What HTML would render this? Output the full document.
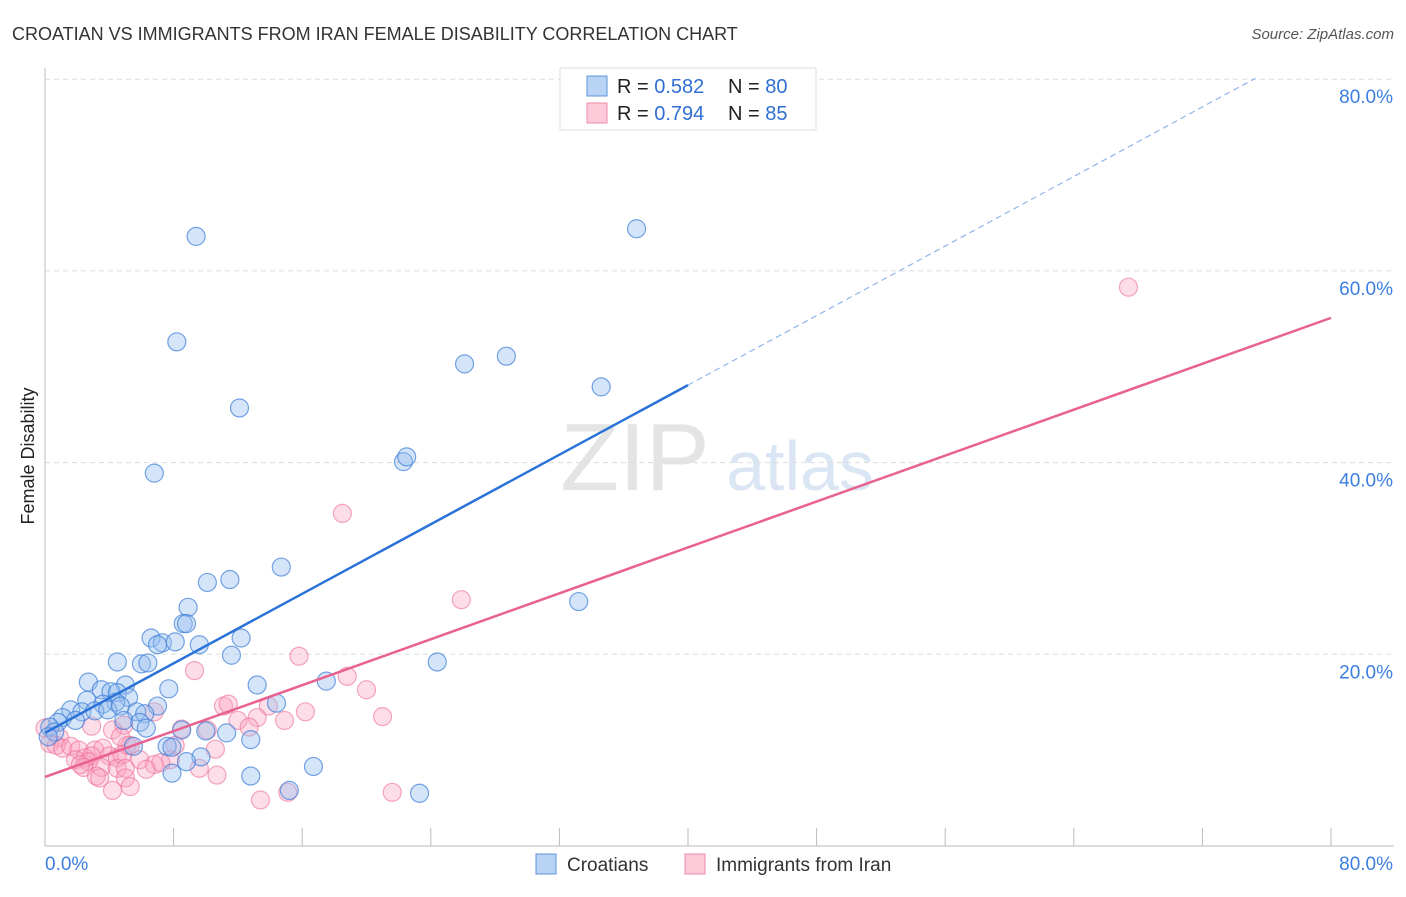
<!DOCTYPE html>
<html><head><meta charset="utf-8"><style>
body{margin:0;background:#fff;font-family:"Liberation Sans",sans-serif;}
svg text{font-family:"Liberation Sans",sans-serif;}
</style></head><body>
<svg width="1406" height="892" id="c">
<text x="12" y="40" font-size="18" fill="#333">CROATIAN VS IMMIGRANTS FROM IRAN FEMALE DISABILITY CORRELATION CHART</text>
<text x="1394" y="39" font-size="15" fill="#555" font-style="italic" text-anchor="end">Source: ZipAtlas.com</text>
<text x="34" y="456" font-size="18" fill="#222" transform="rotate(-90 34 456)" text-anchor="middle">Female Disability</text>
<g><text x="635" y="490" font-size="96" fill="#e4e4e4" font-family="Liberation Serif" text-anchor="middle">ZIP</text><text x="800" y="490" font-size="70" fill="#dbe6f5" text-anchor="middle">atlas</text></g>
<g id="grid"></g><g id="marks"></g>
<g>
<rect x="560" y="68" width="256" height="62" fill="#fff" stroke="#ddd"/>
<rect x="587" y="76" width="20" height="20" fill="#b9d3f5" stroke="#5b93dc"/>
<rect x="587" y="103" width="20" height="20" fill="#fcc9d8" stroke="#ef8aab"/>
<text x="617" y="93" font-size="20" fill="#222">R = <tspan fill="#2f6fd1">0.582</tspan></text>
<text x="728" y="93" font-size="20" fill="#222">N = <tspan fill="#2f6fd1">80</tspan></text>
<text x="617" y="120" font-size="20" fill="#222">R = <tspan fill="#2f6fd1">0.794</tspan></text>
<text x="728" y="120" font-size="20" fill="#222">N = <tspan fill="#2f6fd1">85</tspan></text>
</g>
<g>
<rect x="536" y="854" width="20" height="20" fill="#b9d3f5" stroke="#5b93dc"/>
<text x="567" y="871" font-size="19" fill="#333">Croatians</text>
<rect x="685" y="854" width="20" height="20" fill="#fcc9d8" stroke="#ef8aab"/>
<text x="716" y="871" font-size="19" fill="#333">Immigrants from Iran</text>
</g>
</svg>
<script>
const yTicks=[20,40,60,80];
const yTickLabels=["20.0%","40.0%","60.0%","80.0%"];
const xTickLabels=["0.0%","80.0%"];
const blueX=[9.4,36.8,8.2,26.1,28.7,34.6,12.1,22.3,22.5,6.8,14.7,10.1,11.5,33.2,8.9,8.6,8.8,6.6,7.3,7.0,8.1,12.2,9.6,11.6,4.5,6.0,6.4,24.4,2.7,5.0,7.7,13.2,17.5,3.5,4.1,4.5,5.2,2.6,4.4,3.6,1.6,2.3,3.1,3.9,7.0,14.4,4.7,5.7,6.2,1.1,1.9,0.8,4.9,5.9,6.3,8.5,10.0,0.3,0.6,0.2,5.5,7.6,7.9,9.7,8.8,7.9,12.8,16.7,15.2,23.3,11.3,12.8];
const blueY=[63.6,64.4,52.6,50.3,51.1,47.9,45.7,40.1,40.6,38.9,29.1,27.5,27.8,25.5,24.9,23.2,23.2,21.7,21.2,21.0,21.3,21.7,21.0,19.9,19.2,19.0,19.1,19.2,17.1,16.8,16.4,16.8,17.2,16.3,16.1,16.0,15.5,15.2,15.0,14.8,14.2,14.0,14.1,14.2,14.6,14.9,14.6,14.0,13.8,13.4,13.1,12.9,13.1,12.9,12.3,12.1,12.0,12.4,11.9,11.4,10.4,10.4,10.3,9.3,8.8,7.6,7.3,8.3,5.8,5.5,11.8,11.1];
const pinkX=[67.4,18.5,25.9,9.3,15.8,18.8,20.0,21.0,16.2,11.1,11.4,6.8,13.9,12.0,13.2,14.9,12.7,8.5,10.1,4.9,2.9,0.9,0.3,0.7,1.1,1.6,2.1,4.2,5.1,5.3,8.1,10.6,3.1,3.6,2.5,2.9,2.7,1.9,4.0,4.5,4.8,5.9,7.8,6.8,7.2,2.4,2.2,3.5,4.5,5.0,6.3,9.6,3.2,3.4,5.0,10.7,4.2,5.3,13.4,15.1,21.6,0,4.7];
const pinkY=[58.3,34.7,25.7,18.3,19.8,17.7,16.3,13.5,14.0,14.6,14.8,14.0,14.6,13.1,13.4,13.1,12.4,12.2,12.1,12.6,12.5,11.3,10.7,10.5,10.2,10.4,10.0,12.1,10.5,10.5,10.5,10.1,10.0,10.2,9.2,9.4,8.8,9.0,9.4,9.2,9.5,9.0,9.0,8.5,8.7,8.2,8.5,8.2,8.1,8.1,8.0,8.1,7.3,7.1,7.1,7.4,5.8,6.2,4.8,5.6,5.6,12.3,11.4];
const blueLine=[11.8,80.1];
const pinkLine=[7.2,55.1];
const X=v=>45+v*16.075, Y=v=>846-v*9.585;
const NS="http://www.w3.org/2000/svg";
const g=document.getElementById('grid'), m=document.getElementById('marks');
function mk(tag,at,par){const e=document.createElementNS(NS,tag);for(const k in at)e.setAttribute(k,at[k]);par.appendChild(e);return e;}
yTicks.forEach((t,i)=>{
 const l=mk('line',{x1:45,x2:1394,y1:Y(t),y2:Y(t),stroke:'#ddd','stroke-dasharray':'5,4'},g);
 
 
 const tx=mk('text',{x:1393,y:Y(t)+24,'font-size':19,fill:'#3c7fe0','text-anchor':'end'},g);
 tx.textContent=yTickLabels[i];
 
 
});
mk('line',{x1:45,x2:45,y1:68,y2:846,stroke:'#bbb'},g);
mk('line',{x1:45,x2:1394,y1:846,y2:846,stroke:'#bbb'},g);
for(let i=0;i<=10;i++){const x=X(i*8);mk('line',{x1:x,x2:x,y1:828,y2:846,stroke:'#bbb'},g);}
[[0,45,'start'],[80,1393,'end']].forEach((a,i)=>{const tx=mk('text',{x:a[1],y:870,'font-size':19,fill:'#3c7fe0','text-anchor':a[2]},g);tx.textContent=xTickLabels[i];
 
 });
pinkX.forEach((x,i)=>{const c=mk('circle',{cx:X(x),cy:Y(pinkY[i]),r:9,fill:'rgba(248,160,188,0.35)',stroke:'rgba(236,110,150,0.6)','stroke-width':1.2},m);
 
 });
blueX.forEach((x,i)=>{const c=mk('circle',{cx:X(x),cy:Y(blueY[i]),r:9,fill:'rgba(150,190,240,0.4)',stroke:'rgba(60,125,215,0.7)','stroke-width':1.2},m);
 
 });
const bs=(blueLine[1]-blueLine[0])/75.3, bAt=x=>blueLine[0]+bs*x;
const bl=mk('line',{x1:X(0),y1:Y(bAt(0)),x2:X(40),y2:Y(bAt(40)),stroke:'#2a72d8','stroke-width':2.5},m);


const bd=mk('line',{x1:X(40),y1:Y(bAt(40)),x2:X(75.3),y2:Y(bAt(75.3)),stroke:'#8fb5ea','stroke-width':1.2,'stroke-dasharray':'6,4'},m);


const pl=mk('line',{x1:X(0),y1:Y(pinkLine[0]),x2:X(80),y2:Y(pinkLine[1]),stroke:'#e8618f','stroke-width':2.5},m);


</script>
</body></html>
